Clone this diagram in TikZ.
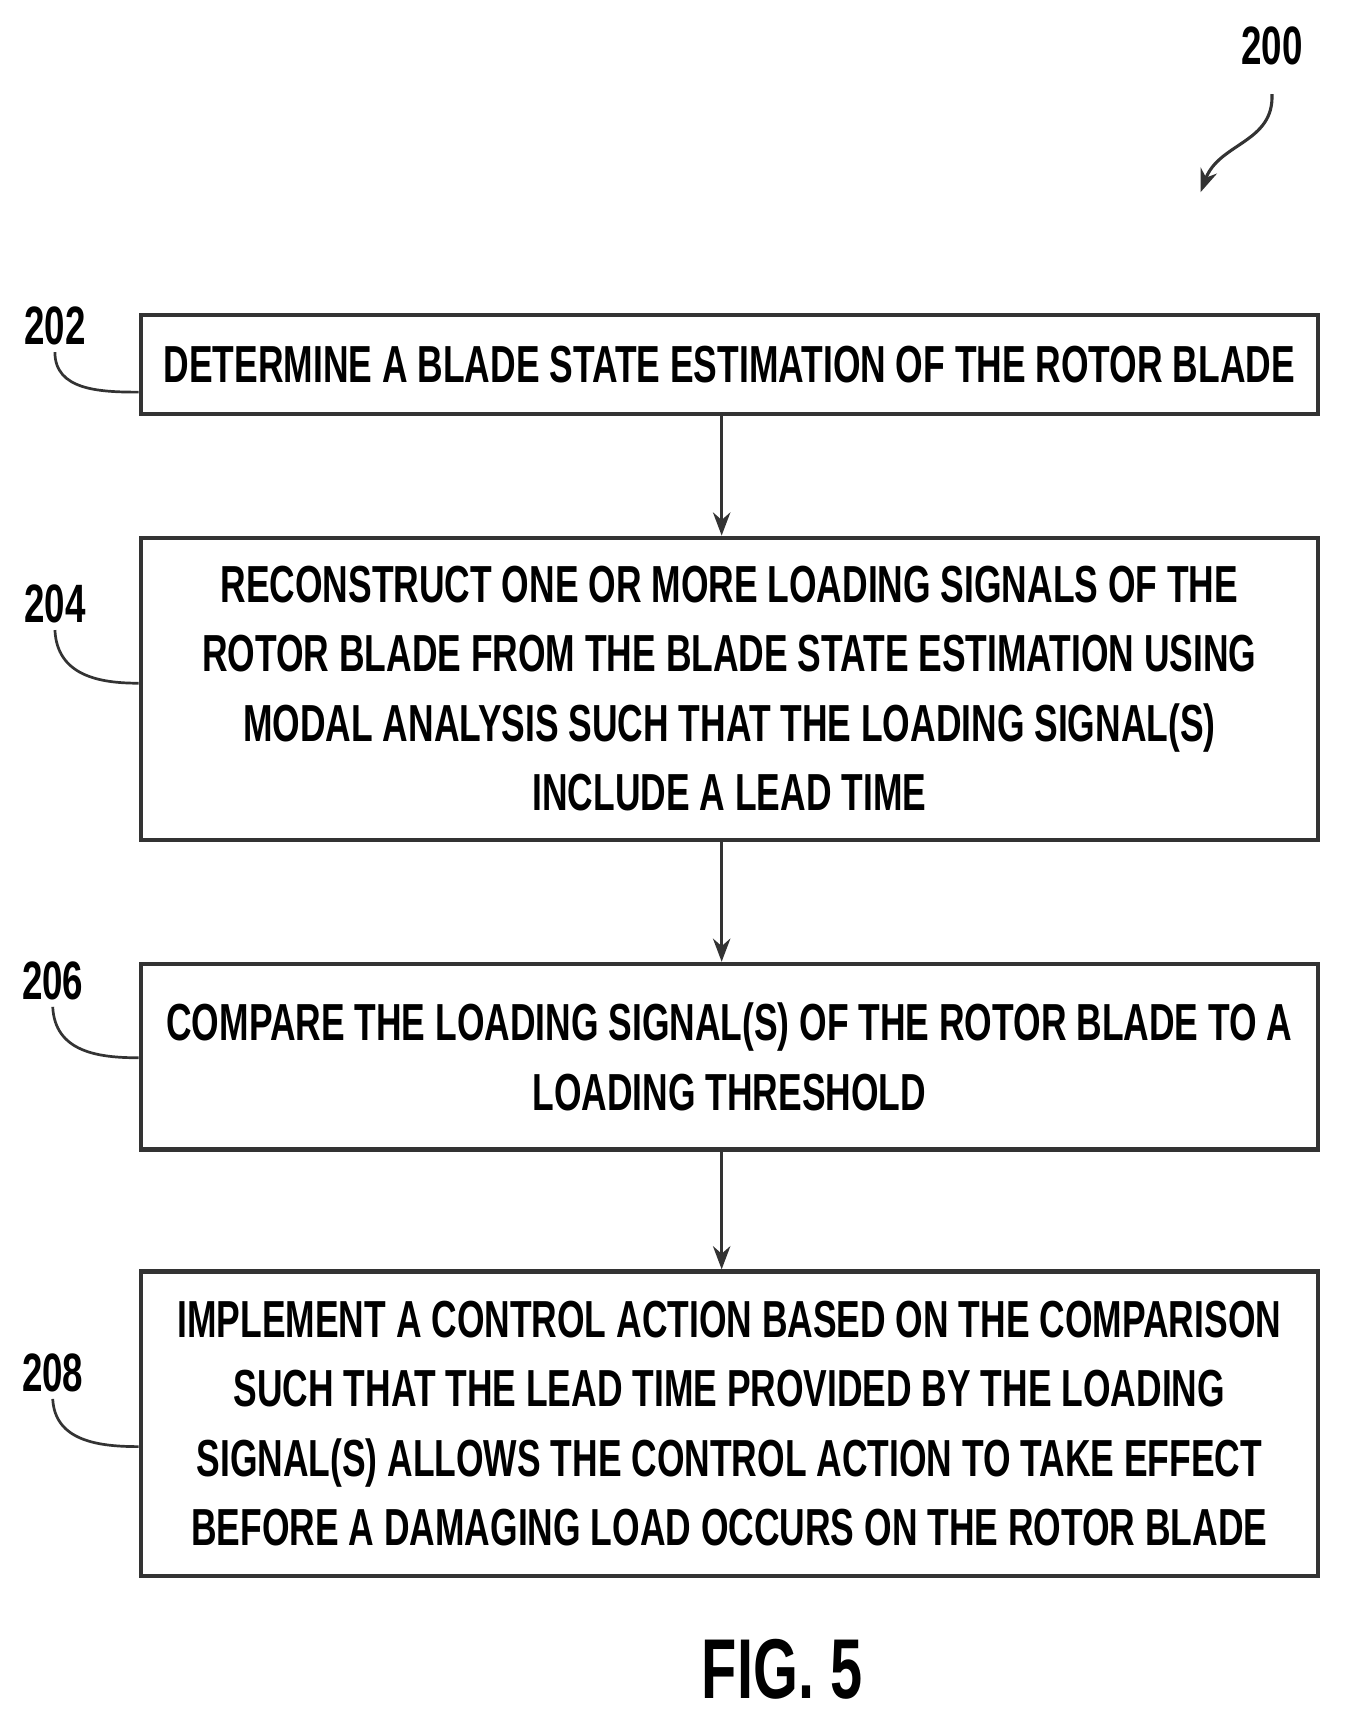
\documentclass[tikz,border=0pt]{standalone}
\usepackage{fontspec}
\setmainfont{Liberation Sans}[FakeStretch=0.68]
\usetikzlibrary{arrows.meta,positioning}
\begin{document}
\begin{tikzpicture}[x=0.02cm,y=-0.02cm,
  stepbox/.style={draw=black!80, line width=2.2pt, align=center,
               font=\fontsize{27}{36}\selectfont\bfseries, inner sep=0pt,
               minimum width=21.44cm},
  ref/.style={font=\fontsize{28}{30}\selectfont\bfseries},
  arrow/.style={-{Stealth[length=12pt,width=9pt]}, line width=1.6pt, black!80},
  leader/.style={line width=1.4pt, black!80}
]
\useasboundingbox (0,0) rectangle (1225,1575);

% Steps
\node[stepbox, minimum height=1.8cm] (s202) at (664,332)
  {DETERMINE A BLADE STATE ESTIMATION OF THE ROTOR BLADE};
\node[stepbox, minimum height=5.5cm] (s204) at (664,627)
  {RECONSTRUCT ONE OR MORE LOADING SIGNALS OF THE\\ROTOR BLADE FROM THE BLADE STATE ESTIMATION USING\\MODAL ANALYSIS SUCH THAT THE LOADING SIGNAL(S)\\INCLUDE A LEAD TIME};
\node[stepbox, minimum height=3.38cm] (s206) at (664,962)
  {COMPARE THE LOADING SIGNAL(S) OF THE ROTOR BLADE TO A\\LOADING THRESHOLD};
\node[stepbox, minimum height=5.54cm] (s208) at (664,1296)
  {IMPLEMENT A CONTROL ACTION BASED ON THE COMPARISON\\SUCH THAT THE LEAD TIME PROVIDED BY THE LOADING\\SIGNAL(S) ALLOWS THE CONTROL ACTION TO TAKE EFFECT\\BEFORE A DAMAGING LOAD OCCURS ON THE ROTOR BLADE};

% Flow
\draw[arrow] (s202.south -| 657,0) -- (s204.north -| 657,0);
\draw[arrow] (s204.south -| 657,0) -- (s206.north -| 657,0);
\draw[arrow] (s206.south -| 657,0) -- (s208.north -| 657,0);

% Reference numerals
\node[ref] (n200) at (1158,42) {200};
\node[ref] (n202) at (50,297) {202};
\node[ref] (n204) at (50,550) {204};
\node[ref] (n206) at (48,893) {206};
\node[ref] (n208) at (48,1250) {208};
\coordinate (t200) at (1093,175);

\draw[arrow] (n200.south) ++(0,20) .. controls (1160,130) and (1110,130) .. (t200);
\draw[leader] (n202.south) .. controls (50,355) and (90,357) .. (s202.west |- 0,357);
\draw[leader] (n204.south) .. controls (52,615) and (90,622) .. (s204.west |- 0,622);
\draw[leader] (n206.south) .. controls (50,958) and (90,963) .. (s206.west |- 0,963);
\draw[leader] (n208.south) .. controls (50,1312) and (90,1317) .. (s208.west |- 0,1317);

\node[font=\fontsize{44}{48}\selectfont\bfseries] (fig) at (712,1520) {FIG. 5};
\end{tikzpicture}
\end{document}
